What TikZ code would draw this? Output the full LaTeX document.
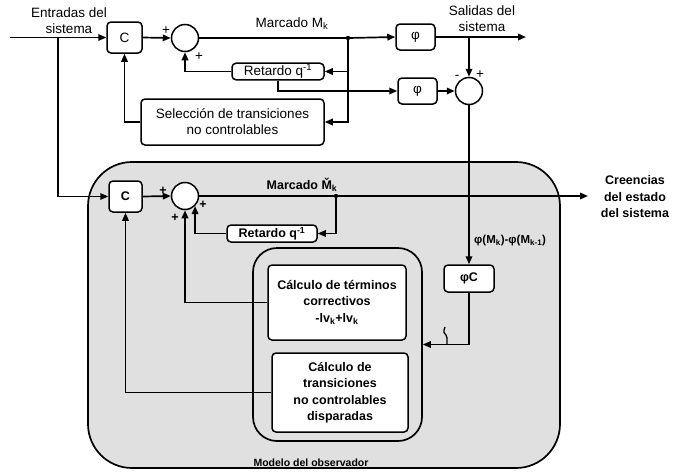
\documentclass[tikz,border=0pt]{standalone}
\usepackage{fontspec}
\setmainfont{Liberation Sans}
\usetikzlibrary{arrows.meta, positioning, calc}

\newcommand{\topfont}{\fontsize{13.5}{16}\selectfont}
\newcommand{\obsfont}{\fontsize{12.5}{16.5}\selectfont\bfseries}

\begin{document}
\begin{tikzpicture}[
  x=1pt, y=-1pt,
  block/.style={rectangle, draw, rounded corners=4pt, fill=white, line width=1.5pt,
    align=center, inner sep=1pt, font=\topfont},
  obsblock/.style={block, font=\obsfont},
  sumnode/.style={circle, draw, fill=white, line width=1.5pt, minimum size=27pt, inner sep=0pt},
  arrow/.style={-{Triangle[length=8pt, width=6.5pt]}, line width=1.7pt},
  wire/.style={line width=1.7pt},
  sign/.style={font=\topfont, inner sep=0pt},
  lbl/.style={align=center, inner sep=0pt, font=\topfont},
]
\useasboundingbox (0,0) rectangle (675,472);

% observer area
\node[draw, line width=1.7pt, fill=black!12, rounded corners=44pt,
  minimum width=472pt, minimum height=306pt] (observer) at (324,315) {};
\node[anchor=base, inner sep=0pt, font=\fontsize{10.5}{12}\selectfont\bfseries] (obslabel) at (311,466) {Modelo del observador};
\node[draw, line width=1.7pt, rounded corners=24pt,
  minimum width=169pt, minimum height=193pt] (inner) at (337.5,344.5) {};

% system (top row)
\node[block, minimum width=35pt, minimum height=31pt] (c1) at (124.5,37.5) {C};
\node[sumnode] (sum1) at (185,38) {};
\node[block, minimum width=39pt, minimum height=26pt] (phi1) at (415.5,37) {φ};
\node[block, minimum width=92pt, minimum height=15pt] (ret1) at (278,71.5) {Retardo q\textsuperscript{-1}};
\node[block, minimum width=183pt, minimum height=46pt] (sel) at (232.5,122) {Selección de transiciones\\no controlables};
\node[block, minimum width=39pt, minimum height=26pt] (phi2) at (417.5,91) {φ};
\node[sumnode] (sum3) at (469,91) {};

% observer row
\node[obsblock, minimum width=33pt, minimum height=31pt] (c2) at (125.5,196.5) {C};
\node[sumnode] (sum2) at (185,196) {};
\node[obsblock, minimum width=90pt, minimum height=17pt] (ret2) at (272,233.5) {Retardo q\textsuperscript{-1}};
\node[obsblock, minimum width=138pt, minimum height=75pt] (corr) at (337,302.5)
  {Cálculo de términos\\correctivos\\-lv\textsubscript{k}+lv\textsubscript{k}};
\node[obsblock, minimum width=136pt, minimum height=79pt] (disp) at (340,392.5)
  {Cálculo de\\transiciones\\no controlables\\disparadas};
\node[obsblock, minimum width=50pt, minimum height=27pt] (phic) at (469,278.5) {φC};

% texts
\node[lbl] (entradas) at (69,21) {Entradas del\\sistema};
\node[lbl] (salidas) at (482,19) {Salidas del\\sistema};
\node[lbl] (marcado1) at (292,24) {Marcado M\textsubscript{k}};
\node[lbl, font=\obsfont] (marcado2) at (302,185) {Marcado \v{M}\textsubscript{k}};
\node[lbl, font=\obsfont] (creencias) at (635,197) {Creencias\\del estado\\del sistema};
\node[anchor=west, inner sep=0pt, font=\fontsize{11.5}{13}\selectfont\bfseries] (dif) at (474,241)
  {φ(M\textsubscript{k})-φ(M\textsubscript{k-1})};

% signs
\node[sign] (s1) at (166,31) {+};
\node[sign] (s2) at (199,57) {+};
\node[sign] (s3) at (457,77) {-};
\node[sign] (s4) at (480,75) {+};
\node[sign, font=\obsfont] (s5) at (163,191) {+};
\node[sign, font=\obsfont] (s6) at (203,205) {+};
\node[sign, font=\obsfont] (s7) at (175,218) {+};

% junctions
\coordinate (in) at (10,37.5);
\coordinate (j0) at (58,37.5);
\coordinate (j1) at (348,38);
\coordinate (j2) at (336,196);
\coordinate (out1) at (526,37);
\coordinate (out2) at (588,196);
\fill (j1) circle (2.2pt);
\fill (j2) circle (2.2pt);

% system connections
\draw[arrow] (in) -- (c1.west);
\draw[arrow] (c1.east) -- (sum1.west);
\draw[wire] (sum1.east) -- (j1);
\draw[arrow] (j1) -- (phi1.west);
\draw[arrow] (phi1.east) -- (out1);
\draw[arrow] (phi1.east -| sum3) -- (sum3.north);
\draw[arrow] (j1) |- (sel.east);
\draw[arrow] (j1 |- ret1.east) -- (ret1.east);
\draw[arrow] (ret1.west) -| (sum1.south);
\draw[arrow] (ret1.south) |- (phi2.west);
\draw[arrow] (phi2.east) -- (sum3.west);
\draw[arrow] (sel.west) -| (c1.south);

% observer connections
\draw[arrow] (j0) |- (c2.west);
\draw[arrow] (c2.east) -- (sum2.west);
\draw[arrow] (sum2.east) -- (out2);
\draw[arrow] (j2) |- (ret2.east);
\draw[arrow] (ret2.west) -| (sum2.-45);
\draw[arrow] (corr.west) -| (sum2.south);
\draw[arrow] (disp.west) -| (c2.south);
\draw[arrow] (sum3.south) -- (phic.north);
\draw[arrow] (phic.south) |- (inner.east);
\draw[line width=1.3pt] (445,327) .. controls (443,332) and (444,334) .. (446,335)
  .. controls (447,337) .. (447,344);

\end{tikzpicture}
\end{document}
